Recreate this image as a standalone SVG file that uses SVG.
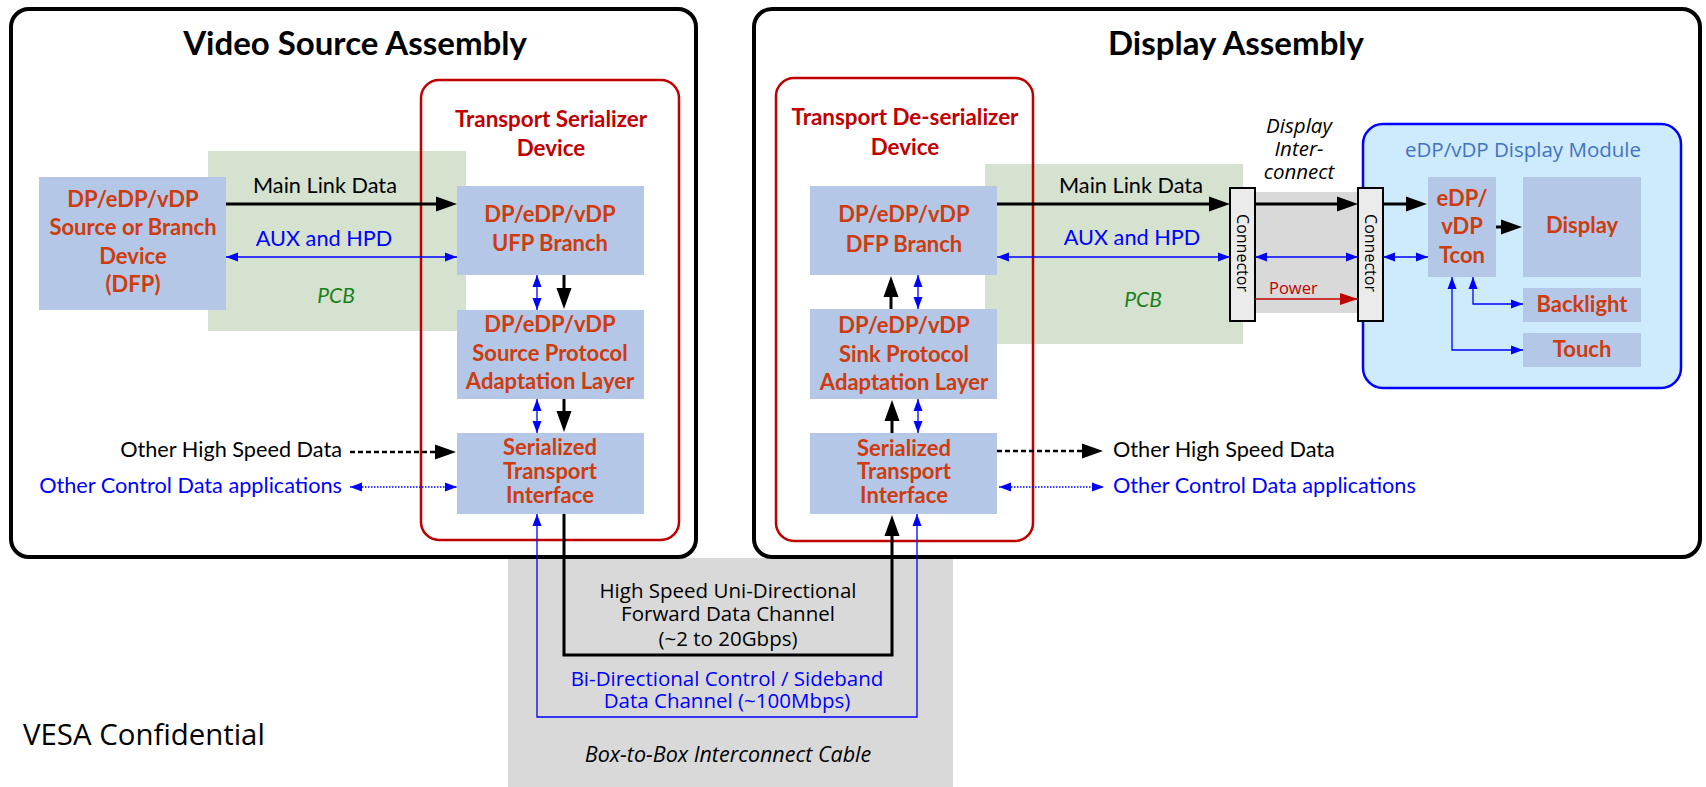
<svg xmlns="http://www.w3.org/2000/svg" width="1706" height="787" viewBox="0 0 1706 787">
<style>
.outer{fill:#fff;stroke:#000;stroke-width:4}
.redbox{fill:none;stroke:#c00000;stroke-width:2.5}
.pcb{fill:#d5e2d0}
.cable{fill:#d9d9d9}
.blk{fill:#b4c7e7}
.conn{fill:#ebebeb;stroke:#000;stroke-width:2}
.mod{fill:#cdebfd;stroke:#0000ff;stroke-width:2.5}
.title{font-family:Lato,"Liberation Sans",sans-serif;font-weight:bold;font-size:33px;fill:#000;text-anchor:middle}
.rt{font-family:Lato,"Liberation Sans",sans-serif;font-weight:bold;font-size:22.4px;fill:#c00000;text-anchor:middle}
.bt{font-family:Lato,"Liberation Sans",sans-serif;font-weight:bold;font-size:22px;fill:#cc3c0f;text-anchor:middle}
.lb{font-family:Lato,"Liberation Sans",sans-serif;font-size:21.7px;fill:#000}
.lbb{font-family:Lato,"Liberation Sans",sans-serif;font-size:21.7px;fill:#0000ff}
.pcbt{font-family:Lato,"Liberation Sans",sans-serif;font-style:italic;font-size:21px;fill:#1a7f1a;text-anchor:middle}
.os{font-family:"Open Sans","Noto Sans",sans-serif}
.ablk{fill:none;stroke:#000;stroke-width:3;marker-end:url(#mb)}
.adash{fill:none;stroke:#000;stroke-width:2.5;stroke-dasharray:5 3;marker-end:url(#mb)}
.ablu{fill:none;stroke:#0000ff;stroke-width:1.3;marker-start:url(#mu);marker-end:url(#mu)}
.adot{fill:none;stroke:#0000ff;stroke-width:1.3;stroke-dasharray:1.5 1.5;marker-start:url(#mu);marker-end:url(#mu)}
</style>
<defs>
<marker id="mb" markerUnits="userSpaceOnUse" markerWidth="21" markerHeight="15" refX="1" refY="7.5" orient="auto" overflow="visible"><path d="M0,0 L21,7.5 L0,15 z" fill="#000"/></marker>
<marker id="mu" markerUnits="userSpaceOnUse" markerWidth="12" markerHeight="9" refX="12" refY="4.5" orient="auto-start-reverse" overflow="visible"><path d="M0,0 L12,4.5 L0,9 z" fill="#0000ff"/></marker>
<marker id="mr" markerUnits="userSpaceOnUse" markerWidth="18" markerHeight="12" refX="18" refY="6" orient="auto" overflow="visible"><path d="M0,0 L18,6 L0,12 z" fill="#c00000"/></marker>
</defs>

<g id="cable">
<rect class="cable" x="508" y="558" width="445" height="229"/>
</g>

<g id="video-source-assembly">
<rect class="outer" x="11" y="9" width="685" height="548" rx="18"/>
<text class="title" x="355" y="55">Video Source Assembly</text>
</g>
<g id="display-assembly">
<rect class="outer" x="754" y="9" width="946" height="548" rx="18"/>
<text class="title" x="1236" y="55">Display Assembly</text>
</g>

<g id="pcb-left">
<rect class="pcb" x="208" y="151" width="258" height="180"/>
<text class="pcbt" x="336" y="303">PCB</text>
</g>
<g id="pcb-right">
<rect class="pcb" x="985" y="164" width="258" height="180"/>
<text class="pcbt" x="1143" y="307">PCB</text>
</g>

<g id="transport-serializer">
<rect class="redbox" x="421" y="80" width="258" height="460" rx="18"/>
<text class="rt" x="551" y="127">Transport Serializer</text>
<text class="rt" x="551" y="156">Device</text>
</g>
<g id="transport-deserializer">
<rect class="redbox" x="776" y="78" width="257" height="463" rx="18"/>
<text class="rt" x="905" y="125">Transport De-serializer</text>
<text class="rt" x="905" y="155">Device</text>
</g>

<g id="source-device">
<rect class="blk" x="39" y="177" width="187" height="133"/>
<text class="bt" x="133" y="207">DP/eDP/vDP</text>
<text class="bt" x="133" y="235">Source or Branch</text>
<text class="bt" x="133" y="264">Device</text>
<text class="bt" x="133" y="292">(DFP)</text>
</g>
<g id="ufp-branch">
<rect class="blk" x="457" y="186" width="187" height="89"/>
<text class="bt" x="550" y="222">DP/eDP/vDP</text>
<text class="bt" x="550" y="251">UFP Branch</text>
</g>
<g id="source-pal">
<rect class="blk" x="457" y="310" width="187" height="89"/>
<text class="bt" x="550" y="332">DP/eDP/vDP</text>
<text class="bt" x="550" y="361">Source Protocol</text>
<text class="bt" x="550" y="389">Adaptation Layer</text>
</g>
<g id="sti-left">
<rect class="blk" x="457" y="433" width="187" height="81"/>
<text class="bt" x="550" y="455">Serialized</text>
<text class="bt" x="550" y="479">Transport</text>
<text class="bt" x="550" y="503">Interface</text>
</g>
<g id="dfp-branch">
<rect class="blk" x="810" y="186" width="187" height="89"/>
<text class="bt" x="904" y="222">DP/eDP/vDP</text>
<text class="bt" x="904" y="252">DFP Branch</text>
</g>
<g id="sink-pal">
<rect class="blk" x="810" y="309" width="187" height="90"/>
<text class="bt" x="904" y="333">DP/eDP/vDP</text>
<text class="bt" x="904" y="362">Sink Protocol</text>
<text class="bt" x="904" y="390">Adaptation Layer</text>
</g>
<g id="sti-right">
<rect class="blk" x="810" y="433" width="187" height="81"/>
<text class="bt" x="904" y="456">Serialized</text>
<text class="bt" x="904" y="479">Transport</text>
<text class="bt" x="904" y="503">Interface</text>
</g>

<g id="display-interconnect">
<rect class="cable" x="1255" y="192" width="103" height="121"/>
<text class="os" x="1299" y="133" font-size="20.5" font-style="italic" text-anchor="middle">Display</text>
<text class="os" x="1299" y="156" font-size="20.5" font-style="italic" text-anchor="middle">Inter-</text>
<text class="os" x="1299" y="179" font-size="20.5" font-style="italic" text-anchor="middle">connect</text>
</g>

<g id="display-module">
<rect class="mod" x="1363" y="124" width="318" height="264" rx="20"/>
<text class="os" x="1523" y="157" font-size="20.5" fill="#4472c4" text-anchor="middle">eDP/vDP Display Module</text>
</g>
<g id="tcon">
<rect class="blk" x="1428" y="177" width="68" height="100"/>
<text class="bt" x="1462" y="206">eDP/</text>
<text class="bt" x="1462" y="234">vDP</text>
<text class="bt" x="1462" y="263">Tcon</text>
</g>
<g id="display">
<rect class="blk" x="1523" y="177" width="118" height="100"/>
<text class="bt" x="1582" y="233">Display</text>
</g>
<g id="backlight">
<rect class="blk" x="1523" y="288" width="118" height="34"/>
<text class="bt" x="1582" y="312">Backlight</text>
</g>
<g id="touch">
<rect class="blk" x="1523" y="333" width="118" height="34"/>
<text class="bt" x="1582" y="357">Touch</text>
</g>

<g id="connector-1">
<rect class="conn" x="1230" y="188" width="25" height="133"/>
<text class="os" transform="translate(1242.5,253) rotate(90)" font-size="16" text-anchor="middle" dominant-baseline="central">Connector</text>
</g>
<g id="connector-2">
<rect class="conn" x="1358" y="188" width="25" height="133"/>
<text class="os" transform="translate(1370.5,253) rotate(90)" font-size="16" text-anchor="middle" dominant-baseline="central">Connector</text>
</g>

<g id="connectors">
<path class="ablk" d="M226,204 H437"/>
<path class="ablu" d="M226,257 H457"/>
<path class="ablk" d="M997,204 H1210"/>
<path class="ablu" d="M997,257 H1230"/>
<path class="ablk" d="M1255,204 H1338"/>
<path class="ablu" d="M1255,257 H1358"/>
<path d="M1255,299 H1358" fill="none" stroke="#c00000" stroke-width="1.5" marker-end="url(#mr)"/>
<path class="ablk" d="M1383,204 H1407"/>
<path class="ablu" d="M1383,257 H1428"/>
<path class="ablk" d="M1496,227 H1502"/>
<path class="ablu" d="M1473,277 V304 H1523"/>
<path class="ablu" d="M1452,277 V350 H1523"/>
<path class="ablk" d="M564,275 V289"/>
<path class="ablu" d="M537,275 V310"/>
<path class="ablk" d="M564,399 V412"/>
<path class="ablu" d="M537,399 V433"/>
<path class="ablk" d="M891,309 V296"/>
<path class="ablu" d="M918,275 V309"/>
<path class="ablk" d="M892,433 V420"/>
<path class="ablu" d="M918,399 V433"/>
<path class="adash" d="M350,452 H436"/>
<path class="adot" d="M350,487 H457"/>
<path class="adash" d="M997,451 H1083"/>
<path class="adot" d="M999,487 H1104"/>
<path class="ablk" d="M564,514 V655 H892 V535"/>
<path class="ablu" d="M537,514 V717 H917 V514"/>
</g>

<g id="labels">
<text class="lb" x="325" y="193" text-anchor="middle">Main Link Data</text>
<text class="lbb" x="324" y="246" text-anchor="middle">AUX and HPD</text>
<text class="lb" x="1131" y="193" text-anchor="middle">Main Link Data</text>
<text class="lbb" x="1132" y="245" text-anchor="middle">AUX and HPD</text>
<text class="os" x="1269" y="294" font-size="16.5" fill="#c00000">Power</text>
<text class="lb" x="342" y="457" text-anchor="end">Other High Speed Data</text>
<text class="lbb" x="342" y="493" text-anchor="end">Other Control Data applications</text>
<text class="lb" x="1113" y="457">Other High Speed Data</text>
<text class="lbb" x="1113" y="493">Other Control Data applications</text>
<text class="os" x="728" y="598" font-size="20.5" text-anchor="middle">High Speed Uni-Directional</text>
<text class="os" x="728" y="621" font-size="20.5" text-anchor="middle">Forward Data Channel</text>
<text class="os" x="728" y="646" font-size="20.5" text-anchor="middle">(~2 to 20Gbps)</text>
<text class="os" x="727" y="686" font-size="20.5" fill="#0000ff" text-anchor="middle">Bi-Directional Control / Sideband</text>
<text class="os" x="727" y="708" font-size="20.5" fill="#0000ff" text-anchor="middle">Data Channel (~100Mbps)</text>
<text class="os" x="728" y="762" font-size="21.5" font-style="italic" text-anchor="middle">Box-to-Box Interconnect Cable</text>
<text class="os" x="23" y="745" font-size="29.4">VESA Confidential</text>
</g>
</svg>
